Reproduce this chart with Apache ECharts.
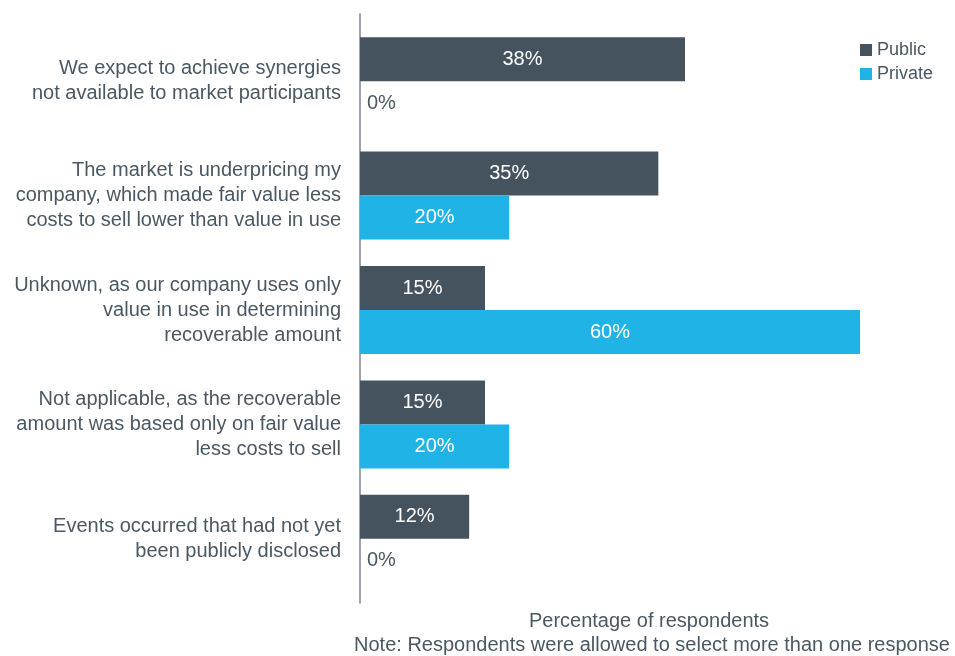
<!DOCTYPE html>
<html><head><meta charset="utf-8">
<script src="https://cdn.jsdelivr.net/npm/echarts@6/dist/echarts.min.js"></script>
<style>html,body{margin:0;padding:0;background:#fff}#c{width:955px;height:656px}</style>
</head><body><div id="c"></div>
<script>
const categories = [
  'We expect to achieve synergies\nnot available to market participants',
  'The market is underpricing my\ncompany, which made fair value less\ncosts to sell lower than value in use',
  'Unknown, as our company uses only\nvalue in use in determining\nrecoverable amount',
  'Not applicable, as the recoverable\namount was based only on fair value\nless costs to sell',
  'Events occurred that had not yet\nbeen publicly disclosed'
];
const publicValues = [39, 35.8, 15, 15, 13.1];
const publicLabels = ['38%', '35%', '15%', '15%', '12%'];
const privateValues = [0, 17.9, 60, 17.9, 0];
const privateLabels = ['0%', '20%', '60%', '20%', '0%'];
const xAxisName = 'Percentage of respondents';
const note = 'Note: Respondents were allowed to select more than one response';

const FONT = '"Liberation Sans", Arial, sans-serif';
const TEXT = '#4a5863';
const C_PUB = '#45535e';
const C_PRI = '#20b4e6';

function items(vals, labels) {
  return vals.map((v, i) => {
    const it = { value: v, lbl: labels[i] };
    if (v === 0) it.label = { position: 'right', color: TEXT, distance: 7 };
    return it;
  });
}
const chart = echarts.init(document.getElementById('c'));
chart.setOption({
  animation: false,
  textStyle: { fontFamily: FONT },
  legend: {
    orient: 'vertical', left: 855, top: 36,
    itemWidth: 12, itemHeight: 12, itemGap: 6,
    icon: 'rect',
    textStyle: { fontSize: 18, color: TEXT, fontFamily: FONT, lineHeight: 18 },
    data: ['Public', 'Private']
  },
  grid: [
    { left: 360, right: 95, top: 24, bottom: 60 },
    { left: 360, right: 95, top: 14, bottom: 53 }
  ],
  xAxis: [
    { type: 'value', min: 0, max: 60, show: false, gridIndex: 0 },
    { type: 'value', min: 0, max: 1, show: false, gridIndex: 1 }
  ],
  yAxis: [
    { type: 'category', inverse: true, data: categories, gridIndex: 0,
      axisLine: { show: false }, axisTick: { show: false },
      axisLabel: { fontSize: 20, color: TEXT, lineHeight: 25, margin: 19, fontFamily: FONT, align: 'right' } },
    { type: 'value', gridIndex: 1, min: 0, max: 1,
      axisLine: { show: true, lineStyle: { color: '#7d858c', width: 1.5 } },
      axisTick: { show: false }, axisLabel: { show: false }, splitLine: { show: false } }
  ],
  series: [
    { name: 'Public', type: 'bar', barWidth: 44, barGap: '0%',
      itemStyle: { color: C_PUB },
      label: { show: true, position: 'inside', color: '#fff', fontSize: 20, fontFamily: FONT,
        formatter: p => p.data.lbl },
      data: items(publicValues, publicLabels) },
    { name: 'Private', type: 'bar', barWidth: 44, barGap: '0%',
      itemStyle: { color: C_PRI },
      label: { show: true, position: 'inside', color: '#fff', fontSize: 20, fontFamily: FONT,
        formatter: p => p.data.lbl },
      data: items(privateValues, privateLabels) }
  ],
  graphic: [
    { type: 'text', x: 649, y: 621, style: { text: xAxisName, fontSize: 20, fill: TEXT, fontFamily: FONT, align: 'center', verticalAlign: 'middle' } },
    { type: 'text', x: 652, y: 645, style: { text: note, fontSize: 20, fill: TEXT, fontFamily: FONT, align: 'center', verticalAlign: 'middle' } }
  ]
});
</script></body></html>
